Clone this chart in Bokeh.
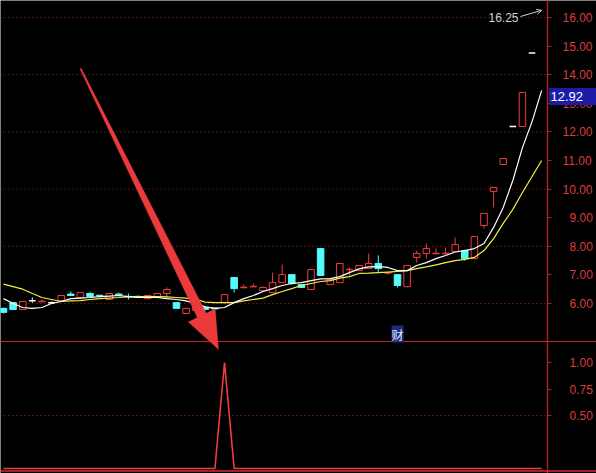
import math
from bokeh.plotting import figure
from bokeh.models import (Range1d, LinearAxis, FixedTicker, NumeralTickFormatter, Span, Label,
                          BoxAnnotation, PolyAnnotation, Arrow, OpenHead, ColumnDataSource)
from bokeh.embed import file_html
from bokeh.resources import INLINE

# ---- daily bars (index = trading day) ----
OPEN = [5.83, 6.03, 5.79, 6.10, 6.06, 6.03, 6.10, 6.33, 6.21, 6.35,
        6.29, 6.14, 6.33, 6.25, 6.25, 6.17, 6.21, 6.35, 6.03, 5.65,
        5.76, 5.86, 5.84, 6.03, 6.91, 6.55, 6.58, 6.45, 6.38, 6.73,
        7.01, 6.66, 6.49, 7.92, 6.66, 6.73, 7.18, 7.15, 7.22, 7.40,
        7.06, 7.01, 6.59, 7.61, 7.75, 7.74, 7.74, 7.82, 7.85, 7.57,
        8.73, 9.92, 10.86, 12.19, 12.19, 14.76]
HIGH = [5.86, 6.05, 6.07, 6.21, 6.14, 6.07, 6.28, 6.42, 6.38, 6.40,
        6.30, 6.36, 6.38, 6.35, 6.28, 6.28, 6.36, 6.56, 6.05, 5.83,
        5.86, 5.88, 5.86, 6.31, 6.93, 6.66, 6.70, 6.59, 7.08, 7.36,
        7.03, 6.68, 7.19, 7.92, 6.84, 7.40, 7.26, 7.33, 7.75, 7.68,
        7.10, 7.03, 7.33, 7.85, 8.10, 7.92, 7.96, 8.31, 7.88, 8.34,
        9.15, 10.06, 11.07, 12.19, 13.38, 14.76]
LOW = [5.65, 5.77, 5.79, 6.03, 6.05, 6.00, 6.10, 6.26, 6.21, 6.21,
       6.26, 6.12, 6.28, 6.14, 6.20, 6.17, 6.21, 6.17, 5.82, 5.65,
       5.76, 5.76, 5.80, 6.03, 6.38, 6.55, 6.58, 6.42, 6.38, 6.73,
       6.66, 6.54, 6.49, 6.98, 6.66, 6.73, 6.98, 7.15, 7.22, 7.08,
       7.01, 6.56, 6.56, 7.43, 7.57, 7.72, 7.72, 7.80, 7.50, 7.55,
       8.62, 9.36, 10.86, 12.19, 12.19, 14.76]
CLOSE = [5.69, 5.79, 6.07, 6.10, 6.08, 6.03, 6.28, 6.28, 6.38, 6.24,
         6.27, 6.35, 6.30, 6.23, 6.22, 6.28, 6.35, 6.49, 5.83, 5.83,
         5.86, 5.79, 5.81, 6.31, 6.52, 6.57, 6.60, 6.56, 6.73, 7.01,
         6.70, 6.56, 7.19, 6.98, 6.84, 7.40, 7.20, 7.33, 7.40, 7.22,
         7.08, 6.63, 7.33, 7.75, 7.92, 7.76, 7.76, 8.06, 7.57, 8.34,
         9.15, 10.06, 11.07, 12.19, 13.38, 14.76]

# moving averages (one value per day, including the latest session)
MA_SHORT = [6.17, 6.00, 5.86, 5.83, 5.86, 6.00, 6.07, 6.17, 6.19, 6.21,
            6.24, 6.26, 6.28, 6.24, 6.21, 6.21, 6.21, 6.17, 6.14, 6.09,
            6.00, 5.88, 5.83, 5.86, 6.03, 6.17, 6.28, 6.42, 6.52, 6.63,
            6.70, 6.73, 6.80, 6.86, 6.87, 6.94, 7.08, 7.21, 7.28, 7.29,
            7.26, 7.15, 7.15, 7.33, 7.43, 7.57, 7.68, 7.80, 7.85, 7.92,
            8.10, 8.66, 9.36, 10.30, 11.45, 12.36, 13.45]
MA_LONG = [6.68, 6.59, 6.50, 6.35, 6.21, 6.14, 6.07, 6.09, 6.10, 6.14,
           6.17, 6.19, 6.21, 6.24, 6.24, 6.24, 6.24, 6.23, 6.21, 6.19,
           6.15, 6.05, 6.03, 6.03, 6.03, 6.09, 6.14, 6.19, 6.31, 6.42,
           6.52, 6.63, 6.70, 6.77, 6.80, 6.89, 6.94, 7.05, 7.06, 7.08,
           7.10, 7.12, 7.15, 7.22, 7.28, 7.35, 7.43, 7.50, 7.54, 7.61,
           7.85, 8.27, 8.80, 9.29, 9.88, 10.44, 11.00]

# buy-signal indicator (lower panel)
SIGNAL = [0] * 23 + [1] + [0] * 33

PRICE_TICKS_WIDE = [10, 11, 12, 13, 14, 15, 16]
PRICE_TICKS_NARROW = [6, 7, 8, 9]
PRICE_GRID = [6, 8, 10, 12, 14, 16]
SIGNAL_TICKS = [0.5, 0.75, 1.0]
SIGNAL_GRID = [0.5]

PEAK_DAY, PEAK_HIGH = 56, 16.25
LAST_PRICE_TEXT = "12.92"
REPORT_DAY, REPORT_MARK = 41, "财"

# ---- screen layout ----
W, H = 596, 473
X0_PX, STEP_PX = 3.0, 9.61          # first bar centre, bar pitch
AXIS_PX = 547.0
PRICE_REF, PRICE_REF_PY, PX_PER_YUAN = 16.0, 17.0, 28.6
SIG_ZERO_PY, PX_PER_UNIT = 468.0, 106.0
PANEL_SPLIT_PY = 341.0


def px_x(px):
    return (px - X0_PX) / STEP_PX


def py_price(py):
    return PRICE_REF + (PRICE_REF_PY - py) / PX_PER_YUAN


def py_sig(py):
    return (SIG_ZERO_PY - py) / PX_PER_UNIT


RED = "#f23c3c"
CYAN = "#54fcfc"
WHITE = "#ffffff"
YELLOW = "#f0f03c"
AXIS_RED = "#a82222"
LABEL_RED = "#dc3c3c"
GRID_RED = "#9a2626"

p = figure(width=W, height=H, output_backend="svg", toolbar_location=None,
           x_range=Range1d(px_x(0), px_x(W)), y_range=Range1d(py_price(H), py_price(0)),
           x_axis_location=None, y_axis_location=None, min_border=0,
           background_fill_color="black", border_fill_color="black", outline_line_color=None)
p.extra_y_ranges = {"sig": Range1d(py_sig(H), py_sig(0))}
p.xgrid.visible = False
p.ygrid.visible = False

axis_x = px_x(AXIS_PX)
x_left = px_x(0)

# dotted guide lines
p.segment(x0=[x_left] * len(PRICE_GRID), x1=[axis_x] * len(PRICE_GRID), y0=PRICE_GRID, y1=PRICE_GRID,
          line_color=GRID_RED, line_width=1, line_dash="1 3")
p.segment(x0=[x_left] * len(SIGNAL_GRID), x1=[axis_x] * len(SIGNAL_GRID), y0=SIGNAL_GRID, y1=SIGNAL_GRID,
          line_color=GRID_RED, line_width=1, line_dash="1 3", y_range_name="sig")

# ---- candles ----
half = 0.34
up, down, flat = [], [], []
for i, (o, h, l, c) in enumerate(zip(OPEN, HIGH, LOW, CLOSE)):
    rec = dict(x=i, o=o, h=h, l=l, c=c, top=max(o, c), bot=min(o, c))
    (up if c > o else down if c < o else flat).append(rec)


def src(rows):
    keys = ["x", "o", "h", "l", "c", "top", "bot"]
    d = {k: [r[k] for r in rows] for k in keys}
    d["left"] = [r["x"] - half for r in rows]
    d["right"] = [r["x"] + half for r in rows]
    return ColumnDataSource(d)


for rows, col, fill in ((up, RED, "black"), (down, CYAN, CYAN), (flat, WHITE, None)):
    s = src(rows)
    p.segment(x0="x", x1="x", y0="top", y1="h", source=s, line_color=col, line_width=1)
    p.segment(x0="x", x1="x", y0="l", y1="bot", source=s, line_color=col, line_width=1)
    if fill is None:
        p.segment(x0="left", x1="right", y0="c", y1="c", source=s, line_color=col, line_width=1.5)
    else:
        p.quad(left="left", right="right", bottom="bot", top="top", source=s,
               fill_color=fill, line_color=col, line_width=1)

days = list(range(len(MA_SHORT)))
p.line(days, MA_LONG, line_color=YELLOW, line_width=1.2)
p.line(days, MA_SHORT, line_color=WHITE, line_width=1.2)

# indicator
p.line(list(range(len(SIGNAL))), SIGNAL, line_color=RED, line_width=1.6, y_range_name="sig")

# panel frame lines
p.add_layout(Span(location=py_price(PANEL_SPLIT_PY), dimension="width", line_color="#c02828", line_width=1.2))
p.add_layout(Span(location=py_sig(470.5), dimension="width", line_color="#d03030", line_width=1.5,
                  y_range_name="sig"))

# ---- right-hand scales ----
def style(ax, standoff):
    ax.formatter = NumeralTickFormatter(format="0.00")
    ax.axis_line_color = AXIS_RED
    ax.axis_line_width = 1.2
    ax.major_tick_line_color = AXIS_RED
    ax.major_tick_in = 0
    ax.major_tick_out = 4
    ax.minor_tick_line_color = None
    ax.major_label_text_color = LABEL_RED
    ax.major_label_text_font = "Liberation Sans"
    ax.major_label_text_font_size = "12px"
    ax.major_label_standoff = standoff


ax_wide = LinearAxis(fixed_location=axis_x, ticker=FixedTicker(ticks=PRICE_TICKS_WIDE))
style(ax_wide, 11)
ax_narrow = LinearAxis(fixed_location=axis_x, ticker=FixedTicker(ticks=PRICE_TICKS_NARROW))
style(ax_narrow, 18)
ax_sig = LinearAxis(fixed_location=axis_x, y_range_name="sig", ticker=FixedTicker(ticks=SIGNAL_TICKS))
style(ax_sig, 18)
for ax in (ax_wide, ax_narrow, ax_sig):
    p.add_layout(ax, "right")

# latest-price tag
p.add_layout(BoxAnnotation(left=px_x(548.5), right=px_x(W), top=py_price(87.5), bottom=py_price(104.5),
                           fill_color="#1c1ca8", fill_alpha=1.0, line_color=None))
p.add_layout(Label(x=px_x(550), y=py_price(96), text=LAST_PRICE_TEXT, text_baseline="middle",
                   text_color=WHITE, text_font="Liberation Sans", text_font_size="13px"))

# highest-price marker
p.add_layout(Label(x=px_x(518), y=py_price(16.5), text=f"{PEAK_HIGH:.2f}", text_align="right",
                   text_baseline="middle", text_color="#d0d0d0", text_font="Liberation Sans",
                   text_font_size="12px"))
p.add_layout(Arrow(end=OpenHead(size=5, line_color="#d0d0d0", line_width=1),
                   x_start=px_x(520), y_start=py_price(16), x_end=PEAK_DAY, y_end=PEAK_HIGH,
                   line_color="#d0d0d0", line_width=1))

# report-day flag
p.add_layout(Label(x=REPORT_DAY, y=py_price(333.5), text=REPORT_MARK, text_align="center",
                   text_baseline="middle", text_color="#e6ecff", background_fill_color="#1e2c7c",
                   text_font="Noto Sans CJK SC", text_font_size="12px"))

# pointer arrow towards the signal day
sx, sy = 80.0, 68.0
tx, ty = 218.0, 349.0
L = math.hypot(tx - sx, ty - sy)
ux, uy = (tx - sx) / L, (ty - sy) / L
nx, ny = -uy, ux
head_len, head_half = 38.0, 15.0
w0, w1 = 1.5, 10.0
bx, by = tx - ux * head_len, ty - uy * head_len
pts = [
    (sx + nx * w0 / 2, sy + ny * w0 / 2),
    (bx + nx * w1 / 2, by + ny * w1 / 2),
    (bx + nx * head_half, by + ny * head_half),
    (tx, ty),
    (bx - nx * head_half, by - ny * head_half),
    (bx - nx * w1 / 2, by - ny * w1 / 2),
    (sx - nx * w0 / 2, sy - ny * w0 / 2),
]
p.add_layout(PolyAnnotation(xs=[px_x(a) for a, b in pts], ys=[py_price(b) for a, b in pts],
                            fill_color="#ec3a3a", fill_alpha=1.0, line_color="#ec3a3a", line_width=1))

open("out.html", "w").write(file_html(p, INLINE))
